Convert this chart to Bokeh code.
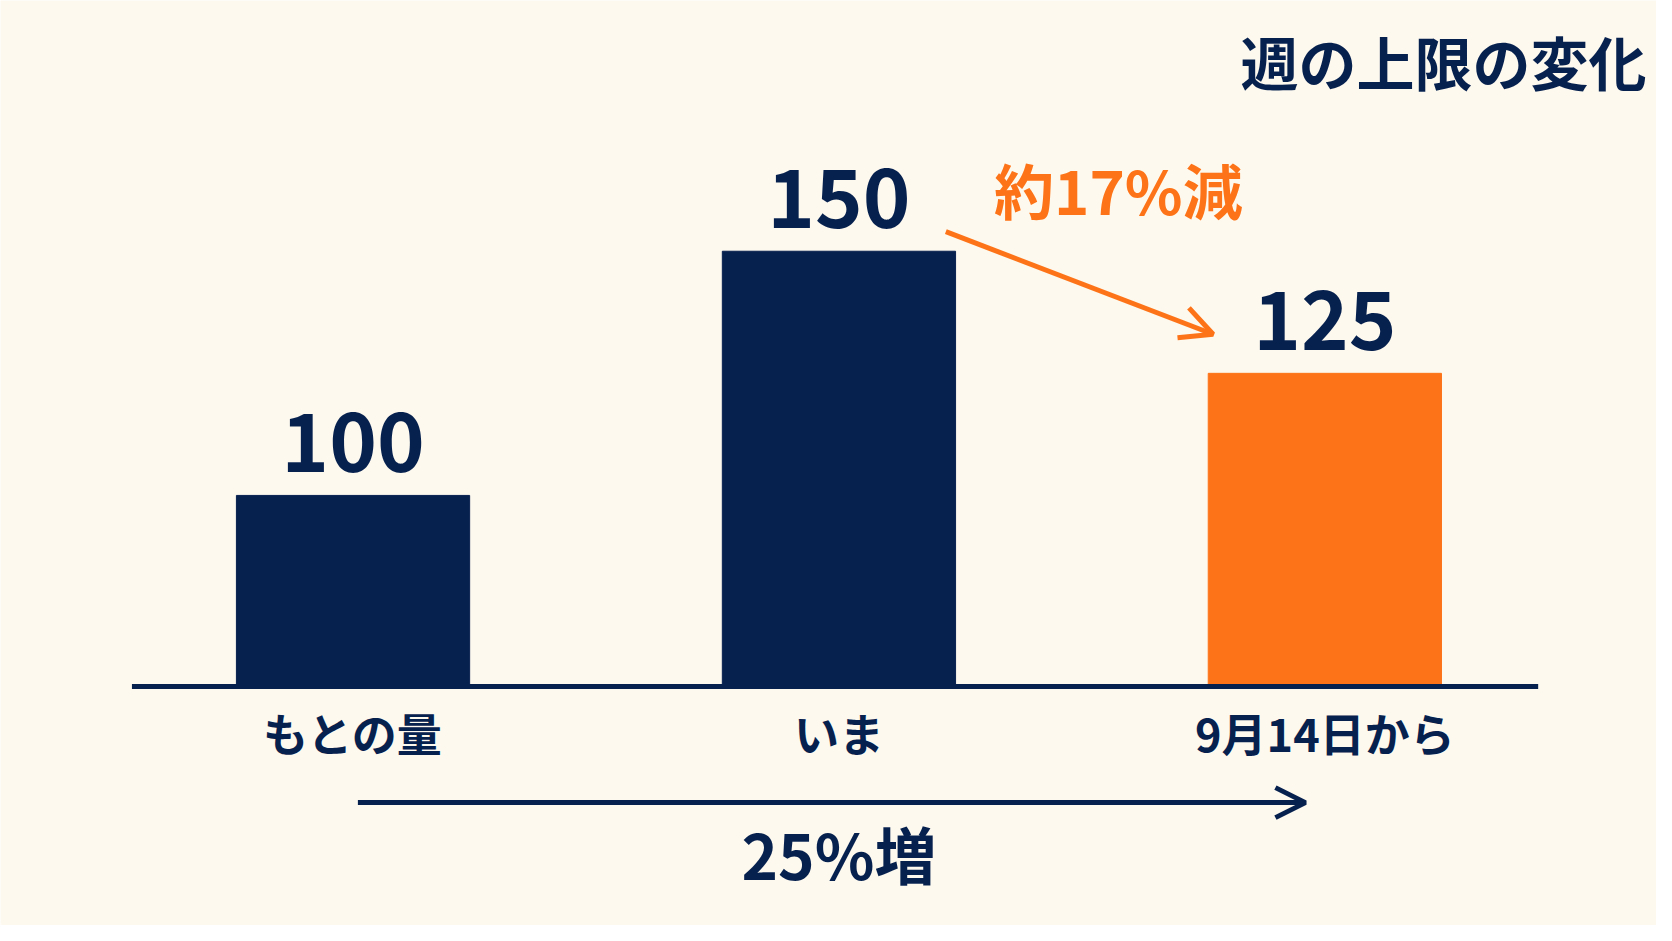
from bokeh.core.properties import value
from bokeh.embed import file_html
from bokeh.models import Arrow, Label, OpenHead, Range1d
from bokeh.plotting import figure
from bokeh.resources import INLINE

# data
categories = ["もとの量", "いま", "9月14日から"]
amounts = [100, 150, 125]
value_labels = ["100", "150", "125"]
title_text = "週の上限の変化"
drop_text = "約17%減"
rise_text = "25%増"

NAVY = "#07214f"
ORANGE = "#fd7418"
BG = "#fdf9ee"
FONT_NAME = "Noto Sans CJK JP"
FONT = value(FONT_NAME)

xs = list(range(len(categories)))
colors = [NAVY, NAVY, ORANGE]
BASE = 60.9    # value where the bars sit on the baseline
W = 0.48

p = figure(width=1656, height=925, output_backend="svg", toolbar_location=None,
           x_range=Range1d(-0.7255, 2.6825), y_range=Range1d(11.94, 201.34),
           min_border=0)
p.axis.visible = False
p.grid.visible = False
p.outline_line_color = None
p.background_fill_color = BG
p.border_fill_color = BG

p.vbar(x=xs, top=amounts, bottom=BASE, width=W, color=colors)
p.line(x=[-0.455, 2.439], y=[BASE, BASE], line_color=NAVY, line_width=5)

# values above bars
p.text(x=xs, y=amounts, text=value_labels, y_offset=-53, text_align="center",
       text_baseline="middle", text_font=FONT, text_font_style="bold",
       text_font_size="81px", text_color=NAVY)

# category labels below the baseline
p.text(x=xs, y=[BASE] * 3, text=categories, y_offset=46, text_align="center",
       text_baseline="middle", text_font=FONT, text_font_style="bold",
       text_font_size="45px", text_color=NAVY)

# title
p.add_layout(Label(x=1646, y=865, x_units="screen", y_units="screen", text=title_text,
                   text_align="right", text_baseline="middle", text_font=FONT_NAME,
                   text_font_style="bold", text_font_size="58px", text_color=NAVY))

# decrease arrow between the last two bars
p.add_layout(Arrow(x_start=xs[1] + W / 2 - 0.02, y_start=amounts[1] + 4,
                   x_end=xs[2] - W / 2 + 0.01, y_end=amounts[2] + 8,
                   line_color=ORANGE, line_width=5,
                   end=OpenHead(size=32, line_color=ORANGE, line_width=5)))
p.text(x=[1.575], y=[amounts[1] + 12.9], text=[drop_text], text_align="center",
       text_baseline="middle", text_font=FONT, text_font_style="bold",
       text_font_size="60px", text_color=ORANGE)

# increase arrow below the labels
p.add_layout(Arrow(x_start=xs[0] + 0.01, y_start=BASE - 23.8, x_end=xs[2] - 0.04, y_end=BASE - 23.8,
                   line_color=NAVY, line_width=5,
                   end=OpenHead(size=30, line_color=NAVY, line_width=5)))
p.text(x=[xs[1]], y=[BASE - 34.15], text=[rise_text], text_align="center",
       text_baseline="middle", text_font=FONT, text_font_style="bold",
       text_font_size="62px", text_color=NAVY)

open("out.html", "w").write(file_html(p, INLINE))
